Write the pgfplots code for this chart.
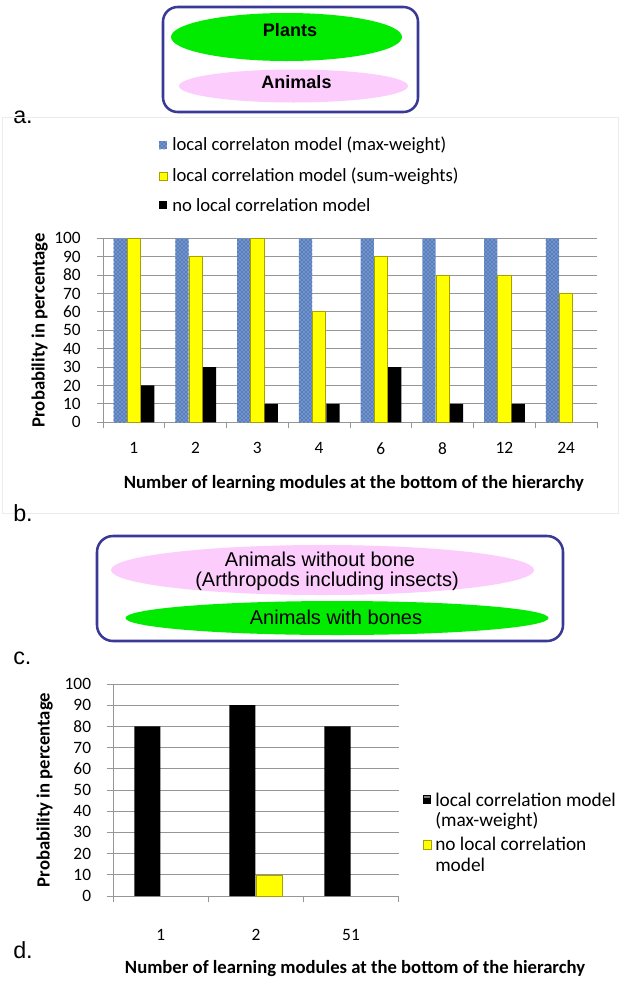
\documentclass[border=0pt]{standalone}
\usepackage{pgfplots}
\pgfplotsset{compat=1.18}
\usepackage{fontspec}
\setmainfont{Carlito}
\newfontfamily\arialf{Liberation Sans}
\usetikzlibrary{patterns}
\definecolor{boxblue}{RGB}{58,58,150}
\definecolor{mygreen}{RGB}{0,235,0}
\definecolor{mypink}{RGB}{252,204,252}
\definecolor{barblue}{RGB}{112,148,205}
\definecolor{dotblue}{RGB}{25,50,125}
\definecolor{yel}{RGB}{255,255,0}
\definecolor{yeldark}{RGB}{170,160,0}
\definecolor{gridgray}{RGB}{150,150,150}
\pgfplotsset{
  chartstyle/.style={
    scale only axis,
    anchor=south west,
    ymin=0, ymax=100,
    ytick={0,10,...,100},
    axis x line*=bottom, axis y line*=left,
    ymajorgrids,
    grid style={draw=gridgray, line width=0.6pt},
    axis line style={draw=gridgray, line width=0.6pt},
    tick style={draw=gridgray, line width=0.6pt},
    tick align=outside, major tick length=4.5pt,
    /pgf/number format/assume math mode=true,
    yticklabel style={anchor=east, inner sep=0pt, xshift=-12pt, font=\fontsize{13}{15}\selectfont},
    xticklabels={},
    extra x tick style={grid=none, major tick length=0pt},
    ylabel={Probability in percentage},
    xlabel={Number of learning modules at the bottom of the hierarchy},
    label style={font=\bfseries\fontsize{14}{16}\selectfont},
  }
}
\begin{document}
\begin{tikzpicture}
\useasboundingbox (0,0) rectangle (471.75pt,-736.5pt);
\fill[white] (0,0) rectangle (471.75pt,-736.5pt);
\begin{scope}[x=0.75pt,y=-0.75pt]
  % ---- panel a
  \draw[boxblue, line width=1.9pt, rounded corners=11pt] (163,7) rectangle (418,112);
  \fill[mygreen] (286.5,37) ellipse [x radius=115.5, y radius=24];
  \fill[mypink] (293.5,86) ellipse [x radius=114.5, y radius=16.5];
  \node[anchor=base, inner sep=0, font=\arialf\bfseries\fontsize{13.5}{16}\selectfont] at (290,36) {Plants};
  \node[anchor=base, inner sep=0, font=\arialf\bfseries\fontsize{13.5}{16}\selectfont] at (296.5,88) {Animals};
  \node[anchor=base west, inner sep=0, font=\arialf\fontsize{17.5}{20}\selectfont] at (13,123) {a.};
  % light frame of chart b
  \draw[gray!15, line width=0.6pt] (2,117) rectangle (618,513);
  % legend b
  \fill[barblue] (159,141) rectangle (167,149);
  \fill[pattern=crosshatch dots, pattern color=dotblue] (159,141) rectangle (167,149);
  \fill[yel, draw=yeldark, line width=0.5pt] (159,172) rectangle (167,180);
  \fill[black] (159,201) rectangle (167,209);
  \node[anchor=west, inner sep=0, font=\fontsize{14}{16}\selectfont] at (172,145) {local correlaton model (max-weight)};
  \node[anchor=west, inner sep=0, font=\fontsize{14}{16}\selectfont] at (172,176) {local correlation model (sum-weights)};
  \node[anchor=west, inner sep=0, font=\fontsize{14}{16}\selectfont] at (172,205) {no local correlation model};
  \node[anchor=base west, inner sep=0, font=\arialf\fontsize{17.5}{20}\selectfont] at (13,521) {b.};
  % ---- panel c
  \draw[boxblue, line width=1.9pt, rounded corners=12pt] (97,536) rectangle (563,641);
  \fill[mypink] (322.5,570) ellipse [x radius=211.5, y radius=25];
  \fill[mygreen] (337,618) ellipse [x radius=211.5, y radius=17];
  \node[inner sep=0, font=\arialf\fontsize{15}{18}\selectfont] at (320,559) {Animals without bone};
  \node[inner sep=0, font=\arialf\fontsize{15}{18}\selectfont] at (327,581) {(Arthropods including insects)};
  \node[inner sep=0, font=\arialf\fontsize{15}{18}\selectfont] at (336,617) {Animals with bones};
  \node[anchor=base west, inner sep=0, font=\arialf\fontsize{17.5}{20}\selectfont] at (13,664) {c.};
  % legend d
  \fill[black] (423,795) rectangle (431,804);
  \fill[gray] (424,796) rectangle (430,798);
  \fill[yel, draw=yeldark, line width=0.5pt] (423,840) rectangle (431,849);
  \node[anchor=west, inner sep=0, font=\fontsize{14.5}{16}\selectfont] at (435,800) {local correlation model};
  \node[anchor=west, inner sep=0, font=\fontsize{14.5}{16}\selectfont] at (435,821) {(max-weight)};
  \node[anchor=west, inner sep=0, font=\fontsize{14.5}{16}\selectfont] at (435,844) {no local correlation};
  \node[anchor=west, inner sep=0, font=\fontsize{14.5}{16}\selectfont] at (435,865) {model};
  \node[anchor=base west, inner sep=0, font=\arialf\fontsize{17.5}{20}\selectfont] at (13,958) {d.};
\end{scope}

% ---- chart b
\begin{axis}[chartstyle,
  at={(77.25pt,-316.7pt)}, width=370.5pt, height=138pt,
  xmin=-0.5, xmax=7.5,
  xtick={-0.5,0.5,...,7.5},
  extra x ticks={0,1,2,3,4,5,6,7},
  extra x tick labels={1,2,3,4,6,8,12,24},
  xticklabel style={anchor=center, yshift=-19.5pt, font=\fontsize{13}{15}\selectfont},
  xlabel style={at={(axis description cs:0.508,-0.335)}, anchor=center},
  ylabel style={at={(axis description cs:-0.128,0.5)}, anchor=center},
  ybar, bar width=0.215,
]
\addplot[draw=none, fill=barblue, bar shift=-0.22,
  postaction={pattern=crosshatch dots, pattern color=dotblue}]
  coordinates {(0,100) (1,100) (2,100) (3,100) (4,100) (5,100) (6,100) (7,100)};
\addplot[draw=yeldark, line width=0.6pt, fill=yel, bar shift=0]
  coordinates {(0,100) (1,90) (2,100) (3,60) (4,90) (5,80) (6,80) (7,70)};
\addplot[draw=none, fill=black, bar shift=0.225]
  coordinates {(0,20) (1,30) (2,10) (3,10) (4,30) (5,10) (6,10)};
\end{axis}

% ---- chart d
\begin{axis}[chartstyle,
  at={(85pt,-672pt)}, width=213.9pt, height=159pt,
  xmin=-0.5, xmax=2.5,
  xtick={-0.5,0.5,1.5,2.5},
  extra x ticks={0,1,2},
  extra x tick labels={1,2,51},
  xticklabel style={anchor=center, yshift=-29pt, font=\fontsize{13}{15}\selectfont},
  xlabel style={at={(axis description cs:0.8475,-0.34)}, anchor=center},
  ylabel style={at={(axis description cs:-0.241,0.5)}, anchor=center},
  ybar, bar width=0.274,
]
\addplot[draw=none, fill=black, bar shift=-0.142]
  coordinates {(0,80) (1,90) (2,80)};
\addplot[draw=yeldark, line width=0.4pt, fill=yel, bar shift=0.142]
  coordinates {(1,10)};
\end{axis}
\end{tikzpicture}
\end{document}
